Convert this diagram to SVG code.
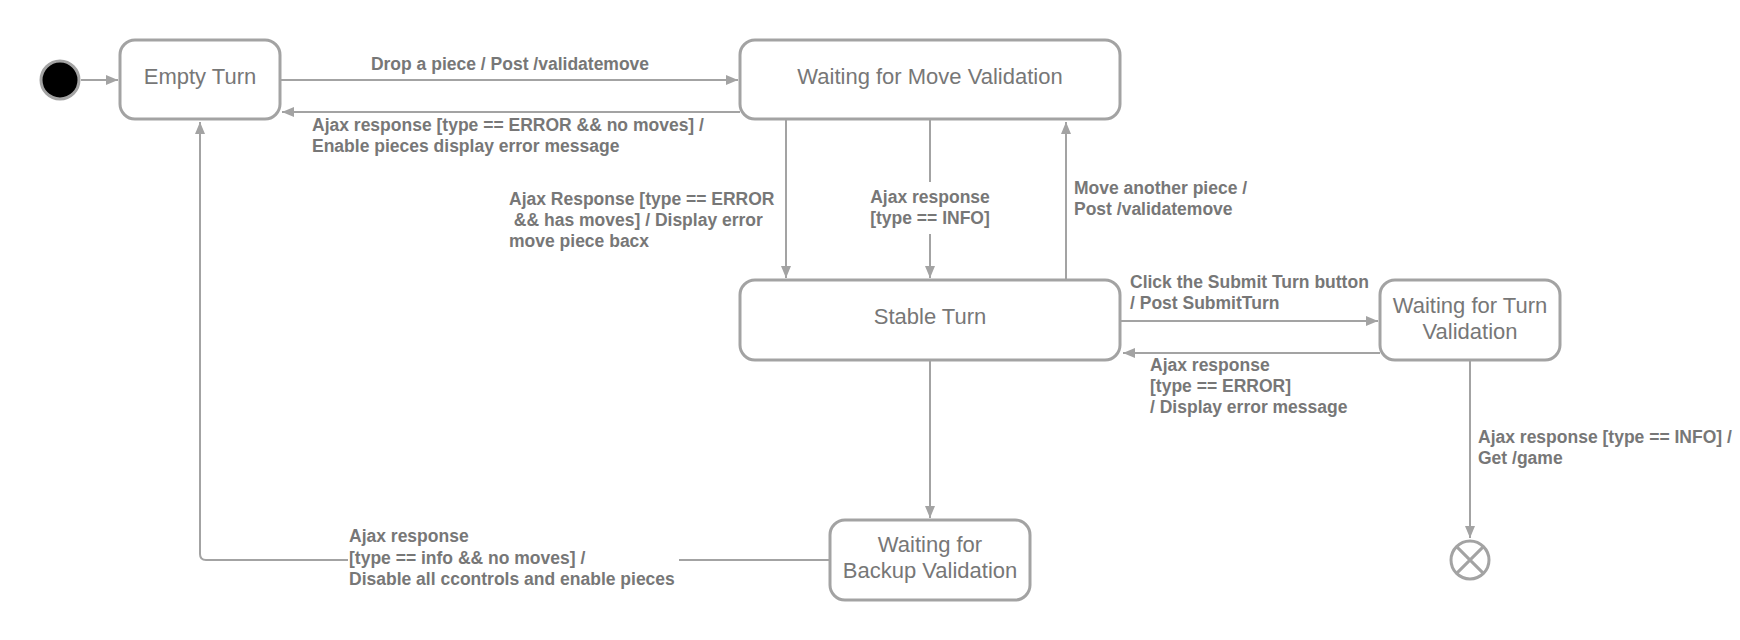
<svg xmlns="http://www.w3.org/2000/svg" width="1740" height="640" viewBox="0 0 1740 640">
<defs>
<style>
.node{fill:#fff;stroke:#a3a3a3;stroke-width:3}
.ntext{font-family:"Liberation Sans",Arial,sans-serif;font-size:22px;fill:#777;text-anchor:middle}
.edge{fill:none;stroke:#a3a3a3;stroke-width:2}
.lbl{font-family:"Liberation Sans",Arial,sans-serif;font-size:17.5px;font-weight:bold;fill:#777}
.bg{fill:#fff}
</style>
<marker id="arr" viewBox="0 0 12 10" refX="12" refY="5" markerWidth="12" markerHeight="10" markerUnits="userSpaceOnUse" orient="auto">
<path d="M0,0 L12,5 L0,10 Z" fill="#a3a3a3"/>
</marker>
</defs>
<rect width="1740" height="640" fill="#fff"/>
<g id="connectors">
<line class="edge" x1="81" y1="80" x2="118" y2="80" marker-end="url(#arr)"/>
<line class="edge" x1="281" y1="80" x2="738" y2="80" marker-end="url(#arr)"/>
<line class="edge" x1="740" y1="112" x2="282" y2="112" marker-end="url(#arr)"/>
<line class="edge" x1="786" y1="120" x2="786" y2="278" marker-end="url(#arr)"/>
<line class="edge" x1="930" y1="120" x2="930" y2="278" marker-end="url(#arr)"/>
<line class="edge" x1="1066" y1="280" x2="1066" y2="122" marker-end="url(#arr)"/>
<line class="edge" x1="1121" y1="321" x2="1378" y2="321" marker-end="url(#arr)"/>
<line class="edge" x1="1380" y1="353" x2="1123" y2="353" marker-end="url(#arr)"/>
<line class="edge" x1="930" y1="361" x2="930" y2="518" marker-end="url(#arr)"/>
<line class="edge" x1="1470" y1="361" x2="1470" y2="538" marker-end="url(#arr)"/>
<path class="edge" d="M830,560 L206,560 Q200,560 200,554 L200,122" marker-end="url(#arr)"/>
<text class="lbl" x="510" y="70" text-anchor="middle">Drop a piece / Post /validatemove</text>
<text class="lbl" x="312" y="131">Ajax response [type == ERROR &amp;&amp; no moves] /</text>
<text class="lbl" x="312" y="152">Enable pieces display error message</text>
<text class="lbl" x="509" y="205" xml:space="preserve">Ajax Response [type == ERROR</text>
<text class="lbl" x="509" y="226" xml:space="preserve"> &amp;&amp; has moves] / Display error</text>
<text class="lbl" x="509" y="247">move piece bacx</text>
<rect class="bg" x="862" y="182" width="136" height="52"/>
<text class="lbl" x="930" y="203" text-anchor="middle">Ajax response</text>
<text class="lbl" x="930" y="224" text-anchor="middle">[type == INFO]</text>
<text class="lbl" x="1074" y="194">Move another piece /</text>
<text class="lbl" x="1074" y="215">Post /validatemove</text>
<text class="lbl" x="1130" y="288">Click the Submit Turn button</text>
<text class="lbl" x="1130" y="309">/ Post SubmitTurn</text>
<text class="lbl" x="1150" y="371">Ajax response</text>
<text class="lbl" x="1150" y="392">[type == ERROR]</text>
<text class="lbl" x="1150" y="413">/ Display error message</text>
<text class="lbl" x="1478" y="443">Ajax response [type == INFO] /</text>
<text class="lbl" x="1478" y="464">Get /game</text>
<rect class="bg" x="348" y="523" width="331" height="64"/>
<text class="lbl" x="349" y="542">Ajax response</text>
<text class="lbl" x="349" y="564">[type == info &amp;&amp; no moves] /</text>
<text class="lbl" x="349" y="585">Disable all ccontrols and enable pieces</text>
</g>
<g id="initial">
<circle cx="60" cy="80" r="19" fill="#000" stroke="#a3a3a3" stroke-width="3"/>
</g>
<g id="empty-turn">
<rect class="node" x="120" y="40" width="160" height="79" rx="15"/>
<text class="ntext" x="200" y="84">Empty Turn</text>
</g>
<g id="waiting-move">
<rect class="node" x="740" y="40" width="380" height="79" rx="15"/>
<text class="ntext" x="930" y="84">Waiting for Move Validation</text>
</g>
<g id="stable-turn">
<rect class="node" x="740" y="280" width="380" height="80" rx="15"/>
<text class="ntext" x="930" y="324">Stable Turn</text>
</g>
<g id="waiting-turn">
<rect class="node" x="1380" y="280" width="180" height="80" rx="15"/>
<text class="ntext" x="1470" y="313">Waiting for Turn</text>
<text class="ntext" x="1470" y="339">Validation</text>
</g>
<g id="waiting-backup">
<rect class="node" x="830" y="520" width="200" height="80" rx="15"/>
<text class="ntext" x="930" y="552">Waiting for</text>
<text class="ntext" x="930" y="578">Backup Validation</text>
</g>
<g id="final">
<circle cx="1470" cy="560" r="19" fill="#fff" stroke="#a3a3a3" stroke-width="3"/>
<path d="M1456.6,546.6 L1483.4,573.4 M1483.4,546.6 L1456.6,573.4" stroke="#a3a3a3" stroke-width="3"/>
</g>
</svg>
